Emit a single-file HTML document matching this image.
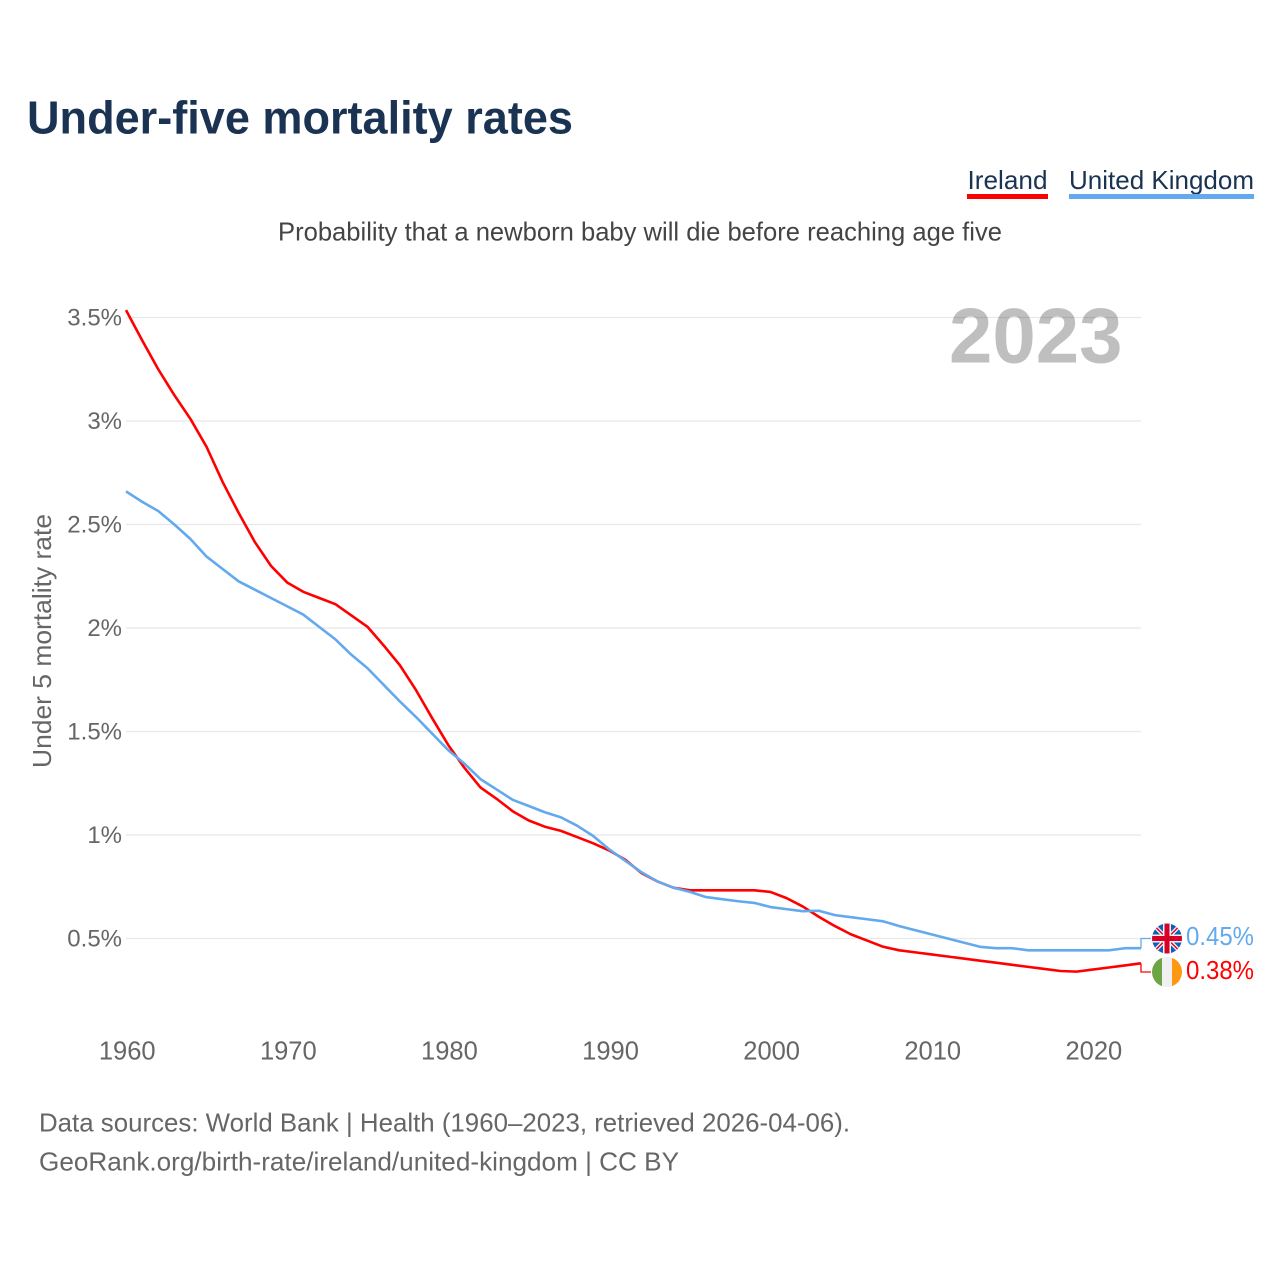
<!DOCTYPE html>
<html lang="en">
<head>
<meta charset="utf-8">
<title>Under-five mortality rates</title>
<style>
html,body{margin:0;padding:0;background:#fff;}
svg{display:block;font-family:"Liberation Sans",sans-serif;}
</style>
</head>
<body>
<svg id="chart" xmlns="http://www.w3.org/2000/svg" width="1280" height="1280" viewBox="0 0 1280 1280">
  <rect x="0" y="0" width="1280" height="1280" fill="#ffffff"/>
  <text x="27" y="133.5" font-size="46" font-weight="700" fill="#1a3352" textLength="546" lengthAdjust="spacingAndGlyphs">Under-five mortality rates</text>

  <text x="967.5" y="189" font-size="26" fill="#1a3352" textLength="80" lengthAdjust="spacingAndGlyphs">Ireland</text>
  <rect x="967" y="194" width="81" height="5" fill="#ff0000"/>
  <text x="1069" y="189" font-size="26" fill="#1a3352" textLength="185" lengthAdjust="spacingAndGlyphs">United Kingdom</text>
  <rect x="1069" y="194" width="185" height="5" fill="#63a9ee"/>

  <text x="278" y="240.5" font-size="26" fill="#444444" textLength="724" lengthAdjust="spacingAndGlyphs">Probability that a newborn baby will die before reaching age five</text>

  <g id="grid"></g>
  <g id="yticks"></g>
  <g id="xticks"></g>

  <text transform="translate(51,641) rotate(-90)" x="0" y="0" text-anchor="middle" font-size="26" fill="#666666" textLength="254" lengthAdjust="spacingAndGlyphs">Under 5 mortality rate</text>

  <g id="series"></g>

  <text x="1122.5" y="362.5" text-anchor="end" font-size="78" font-weight="700" fill="#000000" fill-opacity="0.25">2023</text>

  <defs>
    <clipPath id="flag-clip-uk"><circle cx="1167" cy="938.5" r="15"/></clipPath>
    <clipPath id="flag-clip-ie"><circle cx="1167" cy="972" r="15"/></clipPath>
  </defs>

  <g clip-path="url(#flag-clip-uk)">
    <rect x="1152" y="923.5" width="30" height="30" fill="#1160b8"/>
    <path d="M1152 923.5L1182 953.5M1182 923.5L1152 953.5" stroke="#f2f2f2" stroke-width="4"/>
    <path d="M1152 923.5L1182 953.5M1182 923.5L1152 953.5" stroke="#d80027" stroke-width="1.4"/>
    <rect x="1152" y="934.5" width="30" height="8" fill="#f2f2f2"/>
    <rect x="1163" y="923.5" width="8" height="30" fill="#f2f2f2"/>
    <rect x="1152" y="936" width="30" height="5" fill="#d80027"/>
    <rect x="1164.5" y="923.5" width="5" height="30" fill="#d80027"/>
  </g>
  <g clip-path="url(#flag-clip-ie)">
    <rect x="1152" y="957" width="10" height="30" fill="#6da544"/>
    <rect x="1162" y="957" width="10" height="30" fill="#f0f0f0"/>
    <rect x="1172" y="957" width="10" height="30" fill="#ff9811"/>
  </g>

  <text x="1186" y="945" font-size="26" fill="#63a9ee" textLength="68" lengthAdjust="spacingAndGlyphs">0.45%</text>
  <text x="1186" y="979" font-size="26" fill="#ff0000" textLength="68" lengthAdjust="spacingAndGlyphs">0.38%</text>

  <text x="39" y="1131.5" font-size="26" fill="#666666" textLength="811" lengthAdjust="spacingAndGlyphs">Data sources: World Bank | Health (1960–2023, retrieved 2026-04-06).</text>
  <text x="39" y="1170.5" font-size="26" fill="#666666" textLength="640" lengthAdjust="spacingAndGlyphs">GeoRank.org/birth-rate/ireland/united-kingdom | CC BY</text>
</svg>

<script>
const firstYear = 1960;
const lastYear = 2023;
const yTickValues = [0.5, 1, 1.5, 2, 2.5, 3, 3.5];
const yTickLabels = ['0.5%', '1%', '1.5%', '2%', '2.5%', '3%', '3.5%'];
const xTickYears = [1960, 1970, 1980, 1990, 2000, 2010, 2020];
const irelandValues = [
  3.536, 3.39, 3.25, 3.125, 3.01, 2.875, 2.705, 2.555, 2.415, 2.30,
  2.22, 2.175, 2.145, 2.115, 2.06, 2.005, 1.915, 1.82, 1.70, 1.565,
  1.435, 1.325, 1.23, 1.175, 1.115, 1.07, 1.04, 1.02, 0.99, 0.96,
  0.925, 0.88, 0.816, 0.775, 0.745, 0.733, 0.733, 0.733, 0.733, 0.733,
  0.725, 0.695, 0.655, 0.605, 0.56, 0.52, 0.49, 0.46, 0.443, 0.433,
  0.423, 0.413, 0.403, 0.393, 0.383, 0.373, 0.363, 0.353, 0.343, 0.34,
  0.35, 0.36, 0.37, 0.38
];
const ukValues = [
  2.66, 2.61, 2.565, 2.50, 2.43, 2.345, 2.285, 2.225, 2.185, 2.145,
  2.105, 2.065, 2.005, 1.945, 1.87, 1.805, 1.725, 1.645, 1.57, 1.49,
  1.41, 1.345, 1.27, 1.22, 1.17, 1.14, 1.11, 1.085, 1.045, 0.995,
  0.93, 0.875, 0.82, 0.775, 0.745, 0.725, 0.70, 0.69, 0.68, 0.672,
  0.652, 0.642, 0.632, 0.634, 0.613, 0.603, 0.593, 0.583, 0.56, 0.54,
  0.52, 0.50, 0.48, 0.46, 0.453, 0.453, 0.443, 0.443, 0.443, 0.443,
  0.443, 0.443, 0.453, 0.453
];

const SVG_NS = 'http://www.w3.org/2000/svg';
const plotLeft = 126;
const plotRight = 1141;

function xScale(year) {
  return plotLeft + (year - firstYear) * (plotRight - plotLeft) / (lastYear - firstYear);
}
function yScale(value) {
  return 938.5 - (value - 0.5) * 207;
}
function make(tag, attrs) {
  const el = document.createElementNS(SVG_NS, tag);
  Object.keys(attrs).forEach(function (k) { el.setAttribute(k, attrs[k]); });
  return el;
}

const gridGroup = document.getElementById('grid');
const yTickGroup = document.getElementById('yticks');
const xTickGroup = document.getElementById('xticks');
const seriesGroup = document.getElementById('series');

yTickValues.forEach(function (v, i) {
  const line = make('line', { x1: plotLeft, x2: plotRight, y1: yScale(v), y2: yScale(v), stroke: '#e8e8e8', 'stroke-width': 1.2 });
  
  
  gridGroup.appendChild(line);

  const label = make('text', { x: 122, y: yScale(v) + 8, 'text-anchor': 'end', 'font-size': 24, fill: '#666666' });
  
  
  label.textContent = yTickLabels[i];
  yTickGroup.appendChild(label);
});

xTickYears.forEach(function (year) {
  const label = make('text', { x: xScale(year) + 1.2, y: 1059.5, 'text-anchor': 'middle', 'font-size': 25.5, fill: '#666666' });
  
  
  label.textContent = String(year);
  xTickGroup.appendChild(label);
});

function linePath(values) {
  return values.map(function (v, i) {
    return (i === 0 ? 'M' : 'L') + xScale(firstYear + i).toFixed(2) + ' ' + yScale(v).toFixed(2);
  }).join('');
}

const ukEnd = ukValues[ukValues.length - 1];
const ieEnd = irelandValues[irelandValues.length - 1];

const ieConnector = make('path', {
  d: 'M' + plotRight + ' ' + yScale(ieEnd) + 'V972H1151',
  fill: 'none', stroke: '#ff0000', 'stroke-width': 1.3
});


seriesGroup.appendChild(ieConnector);

const ukConnector = make('path', {
  d: 'M' + plotRight + ' ' + yScale(ukEnd) + 'V938.5H1151',
  fill: 'none', stroke: '#63a9ee', 'stroke-width': 1.3
});


seriesGroup.appendChild(ukConnector);

const ieLine = make('path', {
  d: linePath(irelandValues), fill: 'none', stroke: '#ff0000', 'stroke-width': 2.6, 'stroke-linejoin': 'round'
});


seriesGroup.appendChild(ieLine);

const ukLine = make('path', {
  d: linePath(ukValues), fill: 'none', stroke: '#63a9ee', 'stroke-width': 2.6, 'stroke-linejoin': 'round'
});


seriesGroup.appendChild(ukLine);
</script>
</body>
</html>
